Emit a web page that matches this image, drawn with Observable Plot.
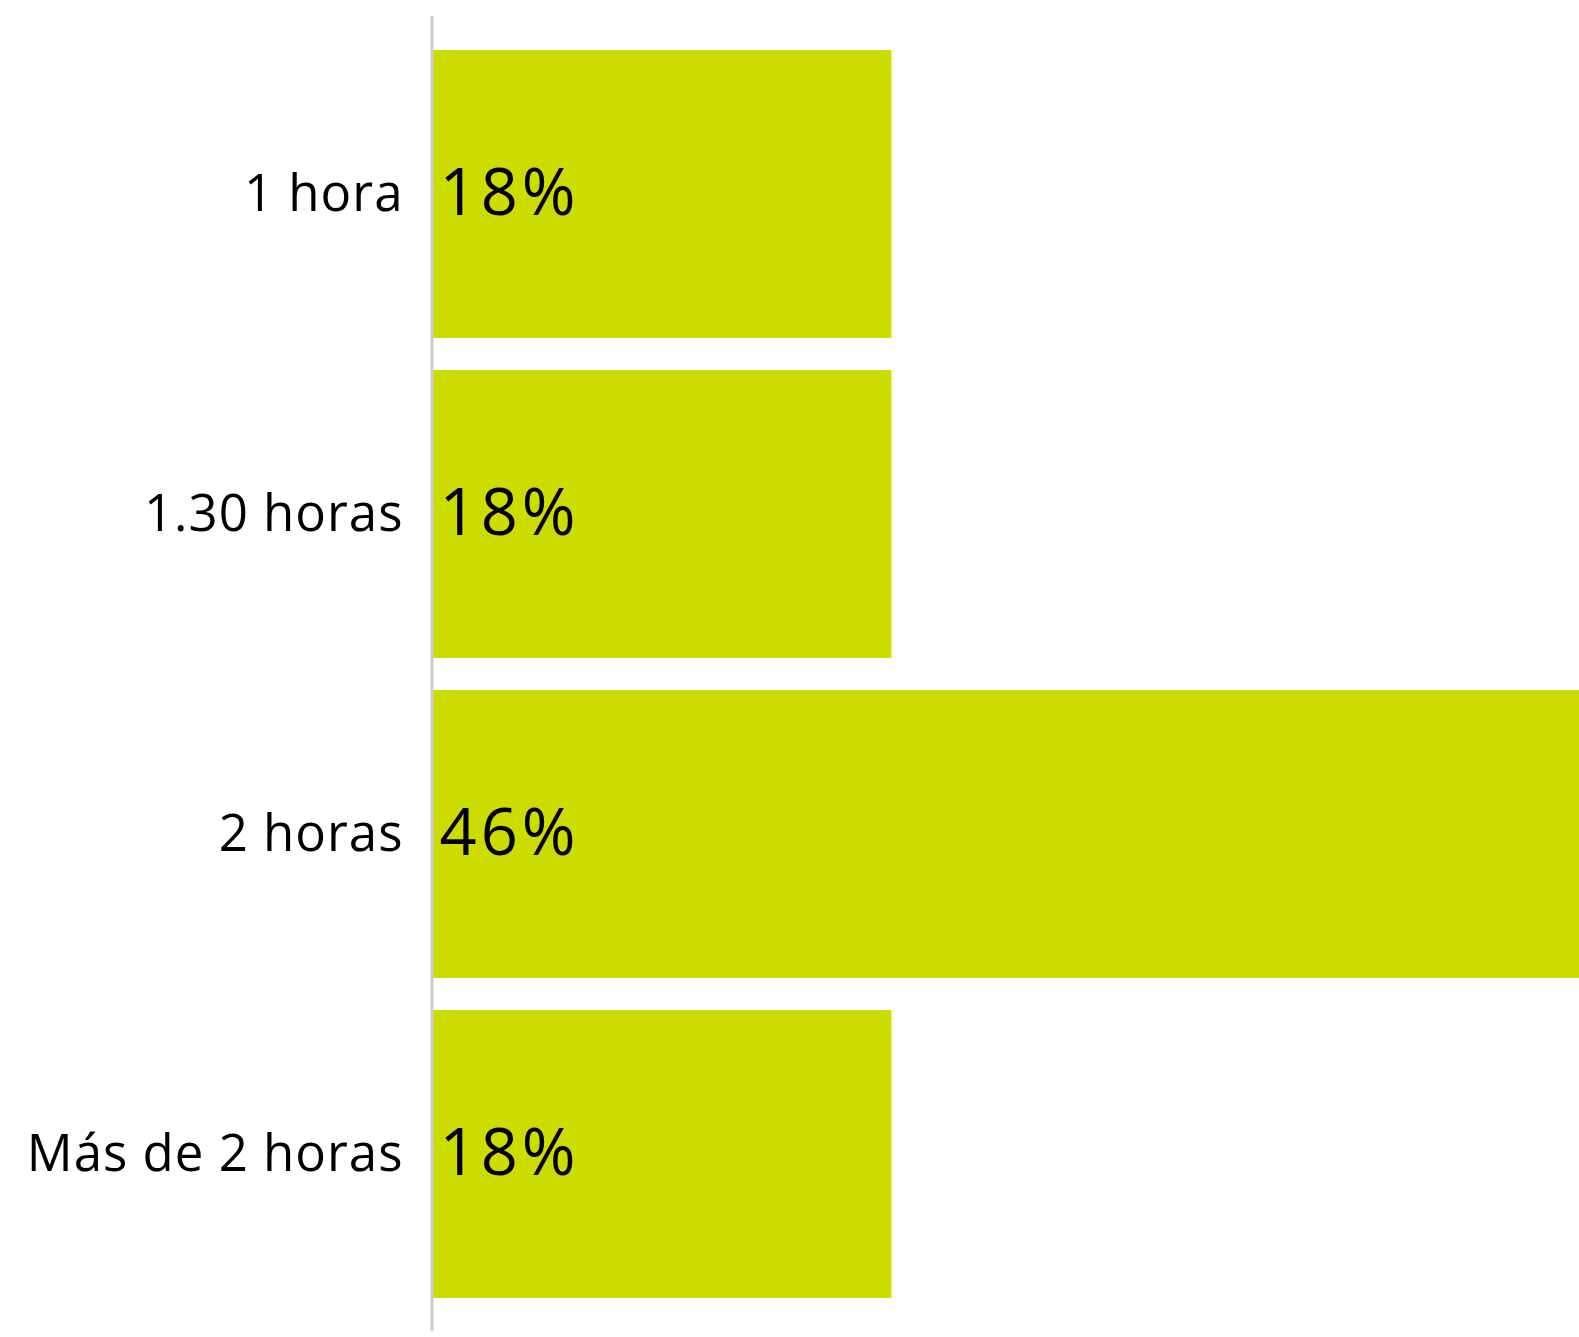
<!DOCTYPE html>
<html>
<head>
<meta charset="utf-8">
<script src="https://cdn.jsdelivr.net/npm/d3@7"></script>
<script src="https://cdn.jsdelivr.net/npm/@observablehq/plot@0.6"></script>
<style>
  html, body { margin: 0; padding: 0; background: #fff; }
  #chart svg { display: block; }
  #chart g[aria-label="text"] text { letter-spacing: 4px; }
  #chart g[aria-label="y-axis tick label"] text { letter-spacing: 1px; }
</style>
</head>
<body>
<div id="chart"></div>
<script>
const categories = ["1 hora", "1.30 horas", "2 horas", "Más de 2 horas"];
const values = [18, 18, 46, 18];
const labels = ["18%", "18%", "46%", "18%"];

const data = categories.map((c, i) => ({category: c, value: values[i], label: labels[i]}));

const chart = Plot.plot({
  width: 1579,
  height: 1337,
  marginTop: 16,
  marginBottom: 6,
  marginLeft: 433,
  marginRight: 0,
  style: {fontFamily: "'Open Sans', 'Noto Sans', sans-serif", color: "#000", background: "#fff"},
  x: {domain: [0, 45], axis: null},
  y: {domain: categories, padding: 0.1, label: null},
  marks: [
    Plot.barX(data, {x: "value", y: "category", fill: "#cddc00", clip: true}),
    Plot.ruleX([0], {stroke: "#cccccc", strokeWidth: 3, dx: -1.5}),
    Plot.text(data, {x: 0, y: "category", text: "label", textAnchor: "start", dx: 6, fontSize: 65, fill: "#000"}),
    Plot.axisY({tickSize: 0, tickPadding: 30, fontSize: 51, label: null, fill: "#000"})
  ]
});
document.getElementById("chart").appendChild(chart);
</script>
</body>
</html>
